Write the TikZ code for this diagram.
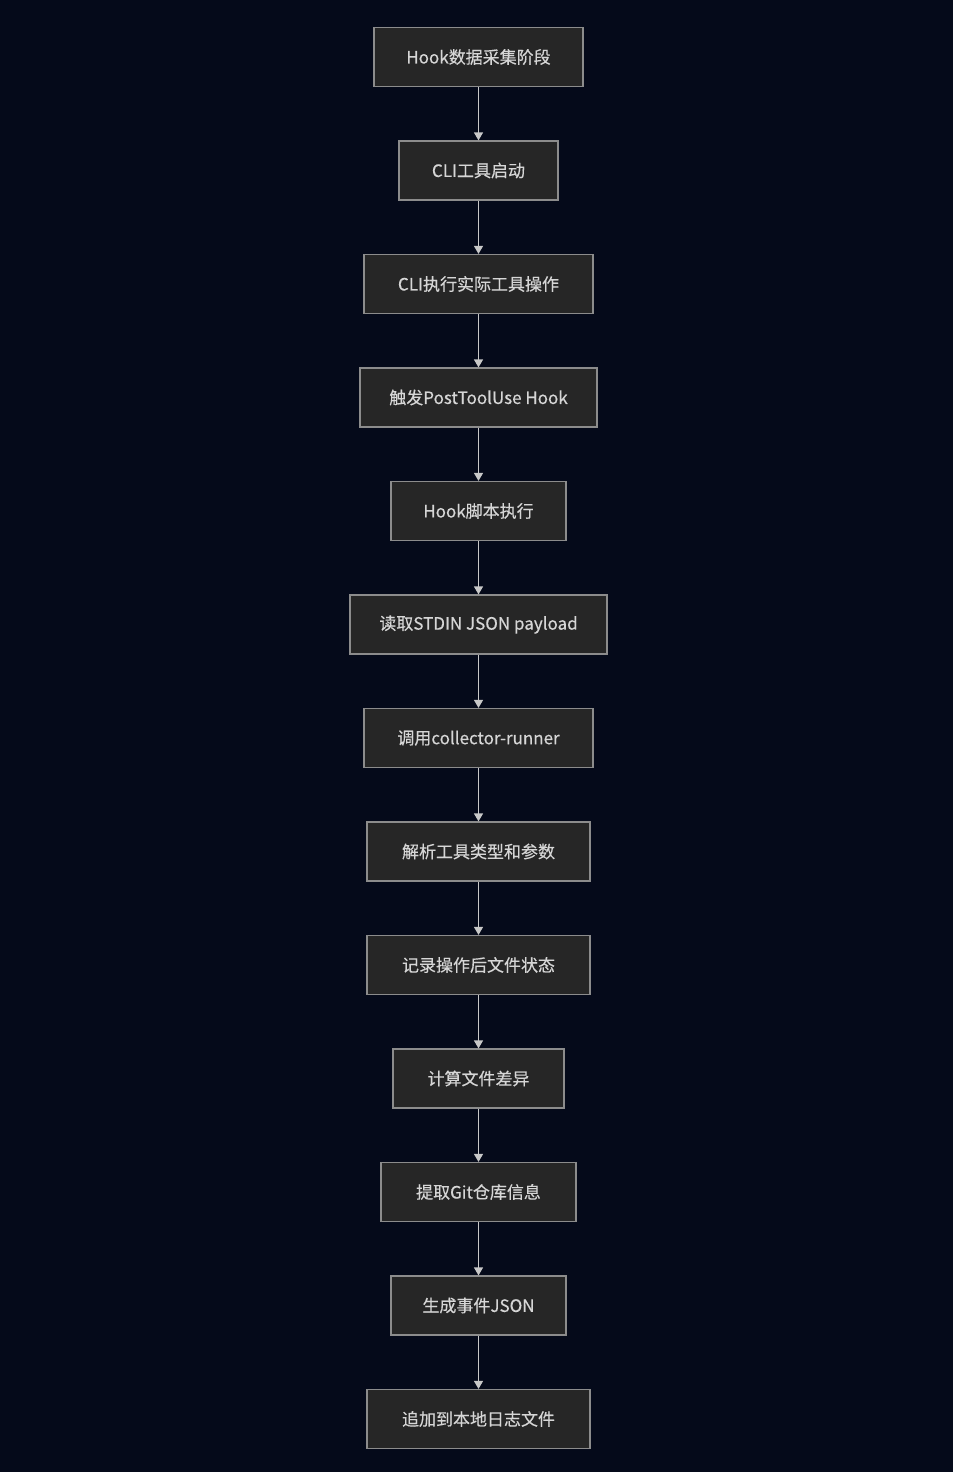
\documentclass[tikz,border=0pt]{standalone}
\usepackage{fontspec}
\setmainfont{Noto Sans CJK SC}
\newfontfamily\boxfont{Noto Sans CJK SC}[FakeBold=0.35]
\usetikzlibrary{arrows.meta}
\definecolor{bg}{HTML}{050A1A}
\definecolor{boxfill}{HTML}{262626}
\definecolor{boxline}{HTML}{8C8C8C}
\definecolor{txt}{HTML}{D6D6D6}
\definecolor{arr}{HTML}{C8C8C8}
\begin{document}
\begin{tikzpicture}[x=1pt,y=-1pt,
  stepbox/.style={draw=boxline, line width=1.2pt, fill=boxfill, text=txt,
    minimum height=59pt, inner sep=0pt, font=\boxfont\fontsize{17}{20}\selectfont},
  flow/.style={draw=arr, line width=1.2pt, -{Triangle[length=8pt,width=9pt]}}]
\fill[bg] (0,0) rectangle (953,1472);
\useasboundingbox (0,0) rectangle (953,1472);
\node[stepbox, minimum width=209pt] (n1) at (478.5,57) {Hook数据采集阶段};
\node[stepbox, minimum width=159pt] (n2) at (478.5,170.5) {CLI工具启动};
\node[stepbox, minimum width=229pt] (n3) at (478.5,284) {CLI执行实际工具操作};
\node[stepbox, minimum width=237pt] (n4) at (478.5,397.5) {触发PostToolUse Hook};
\node[stepbox, minimum width=175pt] (n5) at (478.5,511) {Hook脚本执行};
\node[stepbox, minimum width=257pt] (n6) at (478.5,624.5) {读取STDIN JSON payload};
\node[stepbox, minimum width=229pt] (n7) at (478.5,738) {调用collector-runner};
\node[stepbox, minimum width=223pt] (n8) at (478.5,851.5) {解析工具类型和参数};
\node[stepbox, minimum width=223pt] (n9) at (478.5,965) {记录操作后文件状态};
\node[stepbox, minimum width=171pt] (n10) at (478.5,1078.5) {计算文件差异};
\node[stepbox, minimum width=195pt] (n11) at (478.5,1192) {提取Git仓库信息};
\node[stepbox, minimum width=175pt] (n12) at (478.5,1305.5) {生成事件JSON};
\node[stepbox, minimum width=223pt] (n13) at (478.5,1419) {追加到本地日志文件};
\foreach \a/\b in {n1/n2,n2/n3,n3/n4,n4/n5,n5/n6,n6/n7,n7/n8,n8/n9,n9/n10,n10/n11,n11/n12,n12/n13}
  \draw[flow] (\a.south) -- (\b.north);
\end{tikzpicture}
\end{document}
